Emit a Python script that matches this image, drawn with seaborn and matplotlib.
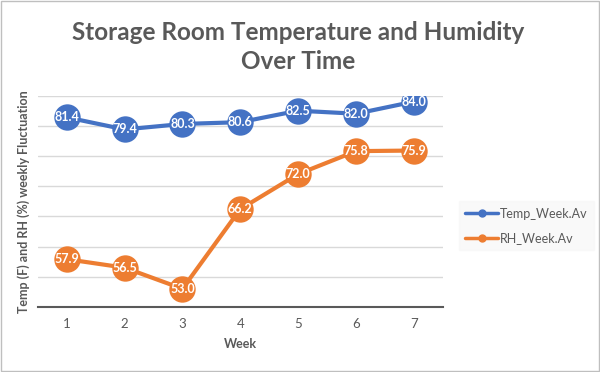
import matplotlib
matplotlib.use("Agg")
import matplotlib.pyplot as plt
import seaborn as sns
import pandas as pd

sns.set_theme(style="white")
plt.rcParams["font.family"] = ["Lato", "DejaVu Sans"]

# values
weeks = [1, 2, 3, 4, 5, 6, 7]
temp_week = [81.4, 79.4, 80.3, 80.6, 82.5, 82.0, 84.0]
rh_week = [57.9, 56.5, 53.0, 66.2, 72.0, 75.8, 75.9]
series_names = ["Temp_Week.Av", "RH_Week.Av"]
colors = ["#4472C4", "#ED7D31"]

df = pd.DataFrame({
    "Week": weeks * 2,
    "value": temp_week + rh_week,
    "series": [series_names[0]] * 7 + [series_names[1]] * 7,
})

grey = "#595959"

fig = plt.figure(figsize=(6, 3.72), dpi=100)
ax = fig.add_axes([0.063, 0.175, 0.675, 0.568])

sns.lineplot(data=df, x="Week", y="value", hue="series", palette=colors,
             marker="o", markersize=19, linewidth=3, markeredgewidth=0,
             ax=ax, legend=False)

# data labels inside the markers
for vals in [temp_week, rh_week]:
    for w, v in zip(weeks, vals):
        ax.text(w, v, f"{v:.1f}", ha="center", va="center", color="white",
                fontsize=9, fontweight="bold")

ax.set_xlim(0.5, 7.5)
ax.set_ylim(50, 85)
ax.set_yticks(range(50, 86, 5))
ax.set_yticklabels([])
ax.tick_params(axis="y", length=0)
ax.set_xticks(weeks)
ax.tick_params(axis="x", length=0, labelsize=9.5, colors=grey, pad=8)
ax.grid(axis="y", color="#d9d9d9", linewidth=1)
for s in ["top", "right", "left"]:
    ax.spines[s].set_visible(False)
ax.spines["bottom"].set_color("#595959")
ax.spines["bottom"].set_linewidth(1.5)

ax.set_xlabel("Week", fontsize=9, fontweight="bold", color=grey, labelpad=6)
ax.set_ylabel("Temp (F) and RH (%) weekly Fluctuation", fontsize=9,
              fontweight="bold", color=grey, labelpad=2)

fig.text(0.497, 0.874, "Storage Room Temperature and Humidity\nOver Time",
         ha="center", va="center", fontsize=17.5, fontweight="bold", color=grey,
         linespacing=1.3)

# legend
handles = [plt.Line2D([], [], color=c, marker="o", markersize=5, linewidth=2.5)
           for c in colors]
leg = fig.legend(handles, series_names, loc="center left",
                 bbox_to_anchor=(0.765, 0.393), frameon=True, fontsize=9,
                 handlelength=2.6, handletextpad=0.15, labelspacing=1.0,
                 borderpad=0.5, borderaxespad=0)
leg.get_frame().set_facecolor("#f8f8f8")
leg.get_frame().set_edgecolor("#f8f8f8")
leg.get_frame().set_boxstyle("square", pad=0)
for t in leg.get_texts():
    t.set_color(grey)

# outer border
fig.patches.append(plt.Rectangle((0.002, 0.003), 0.996, 0.994, transform=fig.transFigure,
                                 fill=False, edgecolor="#bfbfbf", linewidth=1))

fig.savefig("out.png", dpi=100)
